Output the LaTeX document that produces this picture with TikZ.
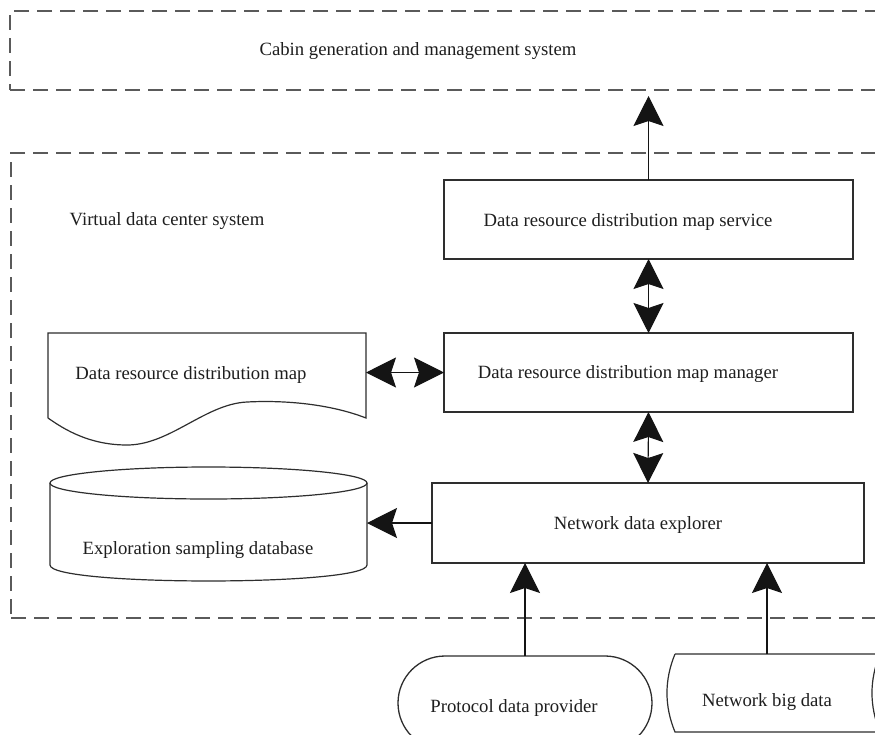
\documentclass[tikz,border=0pt]{standalone}
\usepackage{fontspec}
\setmainfont{Liberation Serif}
\usetikzlibrary{arrows.meta}
\definecolor{ln}{HTML}{2E2E2E}
\definecolor{dsh}{HTML}{5A5A5A}
\definecolor{tx}{HTML}{1E1E1E}
\definecolor{ar}{HTML}{141414}
\begin{document}
\begin{tikzpicture}[x=1pt,y=-1pt,
  font=\fontsize{18.7pt}{22pt}\selectfont,
  every node/.style={inner sep=0pt, outer sep=0pt, text=tx},
  >={Stealth[length=30pt,width=30pt,inset=5pt]},
  frame/.style={draw=dsh, line width=1.4pt, dash pattern=on 15pt off 8pt, anchor=north west},
  proc/.style={draw=ln, line width=1.3pt, anchor=north west},
  area/.style={anchor=north west},
  outline/.style={draw=ln, line width=1.2pt},
  conn/.style={draw=ar, line width=1.1pt, ->},
  dconn/.style={draw=ar, line width=1.1pt, <->}]
\useasboundingbox (0,0) rectangle (875,734);
\clip (0,0) rectangle (875,734);
\fill[white] (0,0) rectangle (875,734);

% dashed frames
\node[frame, minimum width=890, minimum height=79] (cab) at (10,11) {};
\node (cabt) at (418,51) {Cabin generation and management system};
\node[frame, minimum width=890, minimum height=465] (vdc) at (11,153) {};
\node (vdct) at (167,221) {Virtual data center system};

% process boxes
\node[proc, minimum width=409, minimum height=79] (svc) at (444,180) {};
\node (svct) at (628,222) {Data resource distribution map service};
\node[proc, minimum width=409, minimum height=79] (mgr) at (444,333) {};
\node (mgrt) at (628,374) {Data resource distribution map manager};
\node[proc, minimum width=432, minimum height=80] (nde) at (432,483) {};
\node (ndet) at (638,525) {Network data explorer};

% document shape
\node[area, minimum width=318, minimum height=85] (doc) at (48,333) {};
\draw[outline] (doc.south west) -- (doc.north west) -- (doc.north east) -- (doc.south east)
  .. controls (330,404) and (285,400) .. (247,402)
  .. controls (205,404) and (170,445) .. (127,445)
  .. controls (90,445) and (65,430) .. (doc.south west);
\node (doct) at (191,375) {Data resource distribution map};

% database cylinder
\node[area, minimum width=317, minimum height=114] (db) at (50,467) {};
\draw[outline] (208.5,483) ellipse [x radius=158.5pt, y radius=16pt];
\draw[outline] (50,483) -- (50,565) .. controls (50,586.3) and (367,586.3) .. (367,565) -- (367,483);
\node (dbt) at (198,550) {Exploration sampling database};

% sources
\node[proc, rounded corners=47pt, minimum width=254, minimum height=94] (pdp) at (398,656) {};
\node (pdpt) at (514,708) {Protocol data provider};
\node[area, minimum width=205, minimum height=78] (nbd) at (675,654) {};
\draw[outline] (nbd.north west) -- (nbd.north east)
  .. controls (869.3,680) and (869.3,706) .. (nbd.south east)
  -- (nbd.south west) .. controls (664.3,706) and (664.3,680) .. (nbd.north west);
\node (nbdt) at (767,702) {Network big data};

% connectors
\draw[conn, shorten >=6pt] (svc.north) -- (svc.north |- cab.south);
\draw[dconn] (svc.south) -- (mgr.north);
\draw[dconn] (mgr.south) -- (nde.north);
\draw[dconn] (doc.east |- mgr.west) -- (mgr.west);
\draw[conn] (nde.west) -- (nde.west -| db.east);
\draw[conn] (pdp.north) -- (pdp.north |- nde.south);
\draw[conn] (nbdt |- nbd.north) -- (nbdt |- nde.south);
\end{tikzpicture}
\end{document}
